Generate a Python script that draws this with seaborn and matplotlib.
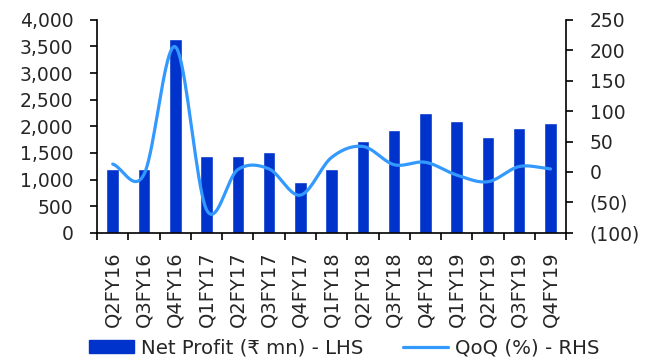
import numpy as np
import pandas as pd
import matplotlib
matplotlib.use("Agg")
import matplotlib.pyplot as plt
from matplotlib.ticker import FuncFormatter, FixedLocator
from matplotlib.patches import Patch
from matplotlib.lines import Line2D
import seaborn as sns

quarters = ["Q2FY16", "Q3FY16", "Q4FY16", "Q1FY17", "Q2FY17", "Q3FY17", "Q4FY17",
            "Q1FY18", "Q2FY18", "Q3FY18", "Q4FY18", "Q1FY19", "Q2FY19", "Q3FY19", "Q4FY19"]
net_profit = [1200, 1200, 3645, 1450, 1450, 1510, 955, 1195, 1720, 1932, 2245, 2100, 1795, 1970, 2070]
qoq = [13, -4, 206, -62, 4, 5, -38, 24, 42, 12, 16, -5, -16, 9, 5]

BAR = "#0033CC"
LINE = "#3399FF"

sns.set_theme(style="white")
plt.rcParams['font.family'] = ['DejaVu Sans']
FS = 13.5
FSX = 14

fig = plt.figure(figsize=(6.56, 3.61), dpi=100)
ax = fig.add_axes([0.148, 0.355, 0.715, 0.590])

df = pd.DataFrame({"q": quarters, "np": net_profit})
sns.barplot(data=df, x="q", y="np", color=BAR, width=0.4, saturation=1, ax=ax)

ax.set_xlim(-0.5, len(quarters) - 0.5)
ax.set_ylim(0, 4000)
ax.set_yticks(np.arange(0, 4001, 500))
ax.yaxis.set_major_formatter(FuncFormatter(lambda v, p: f"{int(v):,}"))
ax.set_xlabel("")
ax.set_ylabel("")
ax.set_xticks(range(len(quarters)))
ax.set_xticklabels(quarters, rotation=90, fontsize=FSX)
ax.xaxis.set_minor_locator(FixedLocator(np.arange(-0.5, len(quarters), 1.0)))
ax.tick_params(axis="x", which="major", length=0, pad=13)
ax.tick_params(axis="x", which="minor", length=5, width=1.2, color="black", direction="out", bottom=True)
ax.tick_params(axis="y", which="major", length=5, width=1.2, color="black", direction="out", left=True, pad=12, labelsize=FS)

# Smoothed QoQ line (Catmull-Rom through the data points)
def catmull(xs, ys, n=20):
    xs = np.asarray(xs, float); ys = np.asarray(ys, float)
    px = np.concatenate([[2*xs[0]-xs[1]], xs, [2*xs[-1]-xs[-2]]])
    py = np.concatenate([[2*ys[0]-ys[1]], ys, [2*ys[-1]-ys[-2]]])
    ox, oy = [], []
    for i in range(1, len(px) - 2):
        t = np.linspace(0, 1, n, endpoint=False)
        for arr, out in ((px, ox), (py, oy)):
            p0, p1, p2, p3 = arr[i-1], arr[i], arr[i+1], arr[i+2]
            out.extend(0.5*((2*p1) + (-p0+p2)*t + (2*p0-5*p1+4*p2-p3)*t**2 + (-p0+3*p1-3*p2+p3)*t**3))
    ox.append(xs[-1]); oy.append(ys[-1])
    return np.array(ox), np.array(oy)

ax2 = ax.twinx()
sx, sy = catmull(np.arange(len(qoq)), qoq)
sns.lineplot(x=sx, y=sy, color=LINE, linewidth=2.3, sort=False, estimator=None, ax=ax2)
ax2.set_ylim(-100, 250)
ax2.set_yticks(np.arange(-100, 251, 50))
ax2.yaxis.set_major_formatter(FuncFormatter(lambda v, p: f"({abs(int(v))})" if v < 0 else f"{int(v)}"))
ax2.tick_params(axis="y", which="major", length=5, width=1.2, color="black", direction="out", right=True, pad=12, labelsize=FS)
ax2.set_xlim(-0.5, len(quarters) - 0.5)

for a in (ax, ax2):
    for s in a.spines.values():
        s.set_visible(False)
    a.grid(False)
ax.spines["left"].set_visible(True)
ax.spines["bottom"].set_visible(True)
ax2.spines["right"].set_visible(True)
for s in (ax.spines["left"], ax.spines["bottom"], ax2.spines["right"]):
    s.set_color("black"); s.set_linewidth(1.2)

handles = [Patch(facecolor=BAR, edgecolor=BAR), Line2D([0], [0], color=LINE, linewidth=2.3)]
labels = ["Net Profit (₹ mn) - LHS", "QoQ (%) - RHS"]
fig.legend(handles, labels, loc="lower center", bbox_to_anchor=(0.525, -0.04), ncol=2, frameon=False,
           fontsize=14.2, handlelength=2.3, handleheight=0.65, columnspacing=2.0, handletextpad=0.35)

fig.savefig("out.png", dpi=100)
